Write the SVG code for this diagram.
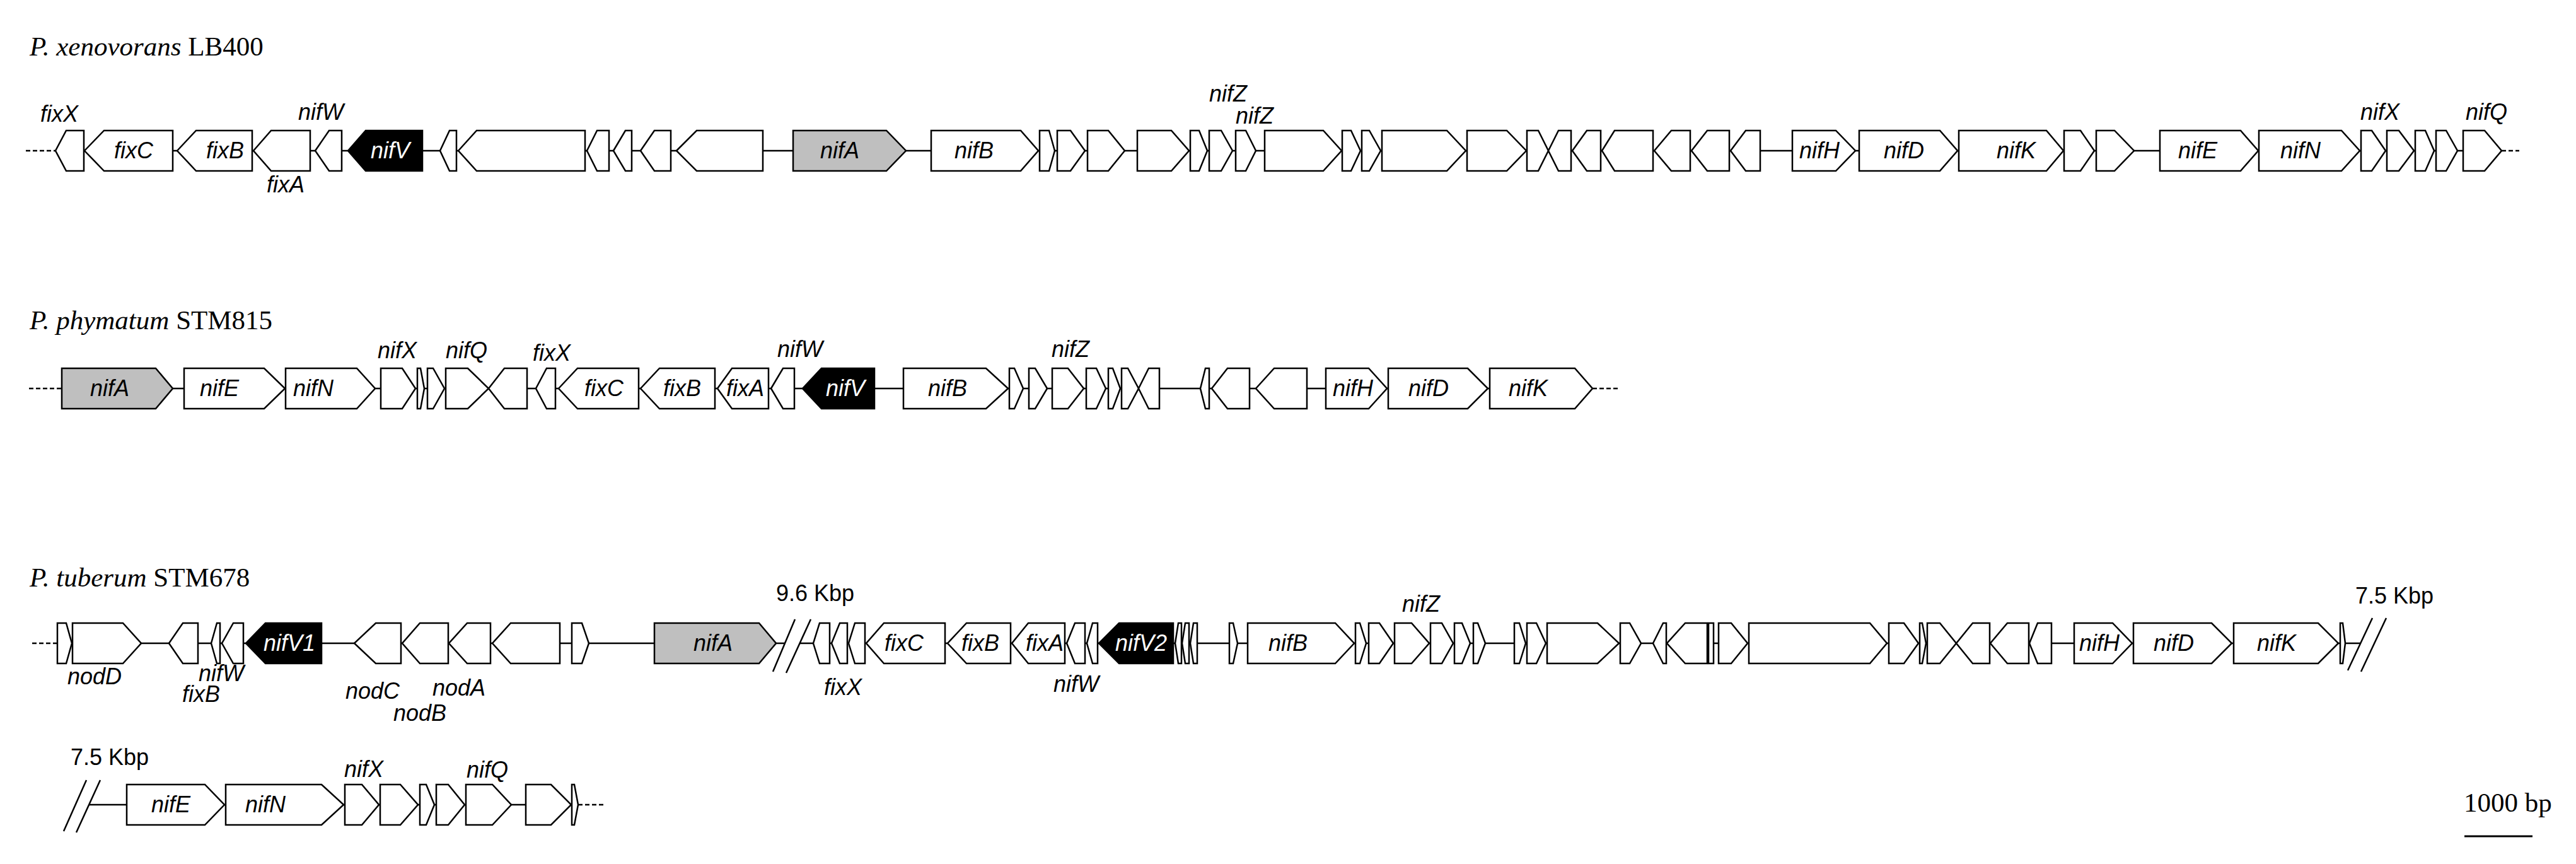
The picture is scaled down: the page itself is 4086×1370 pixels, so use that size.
<svg xmlns="http://www.w3.org/2000/svg" width="4086" height="1370" viewBox="0 0 4086 1370">
<style>
.g{fill:#fff;stroke:#000;stroke-width:2.5;stroke-linejoin:miter}
.a{fill:#bfbfbf}
.v{fill:#000}
.t{font-family:"Liberation Sans",Arial,sans-serif;font-style:italic;font-size:36px;text-anchor:middle;fill:#000}
.w{fill:#fff}
.bb{stroke:#000;stroke-width:2.5;fill:none}
.d{stroke-dasharray:7 4}
.k{font-family:"Liberation Sans",Arial,sans-serif;font-size:36px;fill:#000}
.ti{font-family:"Liberation Serif","Times New Roman",serif;font-size:43px;fill:#000}
</style>
<rect width="4086" height="1370" fill="#fff"/>
<g id="titles">
<text class="ti" x="47" y="88"><tspan font-style="italic">P. xenovorans</tspan> LB400</text>
<text class="ti" x="47" y="522"><tspan font-style="italic">P. phymatum</tspan> STM815</text>
<text class="ti" x="47" y="930"><tspan font-style="italic">P. tuberum</tspan> STM678</text>
</g>
<g id="connectors">
<line class="bb d" x1="41" y1="239" x2="88" y2="239"/>
<line class="bb" x1="88" y1="239" x2="3968" y2="239"/>
<line class="bb d" x1="3968" y1="239" x2="3996" y2="239"/>
<line class="bb d" x1="46" y1="616" x2="98" y2="616"/>
<line class="bb" x1="98" y1="616" x2="2526" y2="616"/>
<line class="bb d" x1="2526" y1="616" x2="2569" y2="616"/>
<line class="bb d" x1="51" y1="1020" x2="91" y2="1020"/>
<line class="bb" x1="91" y1="1020" x2="1245" y2="1020"/>
<line class="bb" x1="1269" y1="1020" x2="3744" y2="1020"/>
<line class="bb" x1="1226" y1="1065" x2="1261" y2="982"/>
<line class="bb" x1="1247" y1="1067" x2="1286" y2="982"/>
<line class="bb" x1="3724" y1="1063" x2="3763" y2="980"/>
<line class="bb" x1="3745" y1="1065" x2="3785" y2="980"/>
<line class="bb" x1="101" y1="1318" x2="137" y2="1237"/>
<line class="bb" x1="121" y1="1320" x2="159" y2="1237"/>
<line class="bb" x1="141" y1="1276" x2="917" y2="1276"/>
<line class="bb d" x1="917" y1="1276" x2="960" y2="1276"/>
</g>
<g id="row1">
<g id="r1-fixX"><polygon class="g" points="88,239 105,207 133,207 133,271 105,271"/><text class="t" x="94" y="193">fixX</text></g>
<g id="r1-fixC"><polygon class="g" points="134,239 165,207 274,207 274,271 165,271"/><text class="t" x="212" y="251">fixC</text></g>
<g id="r1-fixB"><polygon class="g" points="281,239 311,207 400,207 400,271 311,271"/><text class="t" x="357" y="251">fixB</text></g>
<g id="r1-fixA"><polygon class="g" points="402,239 430,207 492,207 492,271 430,271"/><text class="t" x="453" y="305">fixA</text></g>
<g id="r1-nifW"><polygon class="g" points="500,239 522,207 542,207 542,271 522,271"/><text class="t" x="509" y="190">nifW</text></g>
<g id="r1-nifV"><polygon class="g v" points="552,239 580,207 670,207 670,271 580,271"/><text class="t w" x="619" y="251">nifV</text></g>
<g id="r1-g7"><polygon class="g" points="698,239 713,207 724,207 724,271 713,271"/></g>
<g id="r1-g8"><polygon class="g" points="727,239 756,207 928,207 928,271 756,271"/></g>
<g id="r1-g9"><polygon class="g" points="931,239 947,207 966,207 966,271 947,271"/></g>
<g id="r1-g10"><polygon class="g" points="973,239 992,207 1002,207 1002,271 992,271"/></g>
<g id="r1-g11"><polygon class="g" points="1016,239 1038,207 1064,207 1064,271 1038,271"/></g>
<g id="r1-g12"><polygon class="g" points="1073,239 1105,207 1210,207 1210,271 1105,271"/></g>
<g id="r1-nifA"><polygon class="g a" points="1258,207 1406,207 1437,239 1406,271 1258,271"/><text class="t" x="1332" y="251">nifA</text></g>
<g id="r1-nifB"><polygon class="g" points="1477,207 1619,207 1647,239 1619,271 1477,271"/><text class="t" x="1545" y="251">nifB</text></g>
<g id="r1-g15"><polygon class="g" points="1649,207 1664,207 1673,239 1664,271 1649,271"/></g>
<g id="r1-g16"><polygon class="g" points="1677,207 1698,207 1721,239 1698,271 1677,271"/></g>
<g id="r1-g17"><polygon class="g" points="1725,207 1758,207 1784,239 1758,271 1725,271"/></g>
<g id="r1-g18"><polygon class="g" points="1804,207 1858,207 1886,239 1858,271 1804,271"/></g>
<g id="r1-g19"><polygon class="g" points="1888,207 1902,207 1915,239 1902,271 1888,271"/></g>
<g id="r1-g20"><polygon class="g" points="1918,207 1937,207 1955,239 1937,271 1918,271"/><text class="t" x="1948" y="161">nifZ</text></g>
<g id="r1-g21"><polygon class="g" points="1960,207 1976,207 1992,239 1976,271 1960,271"/><text class="t" x="1990" y="196">nifZ</text></g>
<g id="r1-g22"><polygon class="g" points="2006,207 2099,207 2128,239 2099,271 2006,271"/></g>
<g id="r1-g23"><polygon class="g" points="2129,207 2143,207 2158,239 2143,271 2129,271"/></g>
<g id="r1-g24"><polygon class="g" points="2160,207 2172,207 2190,239 2172,271 2160,271"/></g>
<g id="r1-g25"><polygon class="g" points="2192,207 2295,207 2325,239 2295,271 2192,271"/></g>
<g id="r1-g26"><polygon class="g" points="2327,207 2390,207 2421,239 2390,271 2327,271"/></g>
<g id="r1-g27"><polygon class="g" points="2422,207 2440,207 2456,239 2440,271 2422,271"/></g>
<g id="r1-g28"><polygon class="g" points="2456,239 2472,207 2492,207 2492,271 2472,271"/></g>
<g id="r1-g29"><polygon class="g" points="2494,239 2517,207 2539,207 2539,271 2517,271"/></g>
<g id="r1-g30"><polygon class="g" points="2541,239 2561,207 2622,207 2622,271 2561,271"/></g>
<g id="r1-g31"><polygon class="g" points="2624,239 2651,207 2681,207 2681,271 2651,271"/></g>
<g id="r1-g32"><polygon class="g" points="2683,239 2708,207 2743,207 2743,271 2708,271"/></g>
<g id="r1-g33"><polygon class="g" points="2745,239 2769,207 2792,207 2792,271 2769,271"/></g>
<g id="r1-nifH"><polygon class="g" points="2843,207 2912,207 2943,239 2912,271 2843,271"/><text class="t" x="2886" y="251">nifH</text></g>
<g id="r1-nifD"><polygon class="g" points="2949,207 3077,207 3105,239 3077,271 2949,271"/><text class="t" x="3020" y="251">nifD</text></g>
<g id="r1-nifK"><polygon class="g" points="3107,207 3246,207 3273,239 3246,271 3107,271"/><text class="t" x="3198" y="251">nifK</text></g>
<g id="r1-g37"><polygon class="g" points="3274,207 3300,207 3322,239 3300,271 3274,271"/></g>
<g id="r1-g38"><polygon class="g" points="3325,207 3354,207 3385,239 3354,271 3325,271"/></g>
<g id="r1-nifE"><polygon class="g" points="3426,207 3554,207 3582,239 3554,271 3426,271"/><text class="t" x="3486" y="251">nifE</text></g>
<g id="r1-nifN"><polygon class="g" points="3583,207 3714,207 3743,239 3714,271 3583,271"/><text class="t" x="3649" y="251">nifN</text></g>
<g id="r1-nifX"><polygon class="g" points="3745,207 3762,207 3784,239 3762,271 3745,271"/><text class="t" x="3775" y="190">nifX</text></g>
<g id="r1-g42"><polygon class="g" points="3786,207 3805,207 3829,239 3805,271 3786,271"/></g>
<g id="r1-g43"><polygon class="g" points="3831,207 3847,207 3861,239 3847,271 3831,271"/></g>
<g id="r1-g44"><polygon class="g" points="3864,207 3880,207 3898,239 3880,271 3864,271"/></g>
<g id="r1-nifQ"><polygon class="g" points="3907,207 3941,207 3968,239 3941,271 3907,271"/><text class="t" x="3944" y="190">nifQ</text></g>
</g>
<g id="row2">
<g id="r2-nifA"><polygon class="g a" points="98,584 247,584 274,616 247,648 98,648"/><text class="t" x="174" y="628">nifA</text></g>
<g id="r2-nifE"><polygon class="g" points="292,584 419,584 452,616 419,648 292,648"/><text class="t" x="348" y="628">nifE</text></g>
<g id="r2-nifN"><polygon class="g" points="453,584 566,584 595,616 566,648 453,648"/><text class="t" x="497" y="628">nifN</text></g>
<g id="r2-nifX"><polygon class="g" points="604,584 638,584 659,616 638,648 604,648"/><text class="t" x="630" y="568">nifX</text></g>
<g id="r2-g5"><polygon class="g" points="662,584 667,584 673,616 667,648 662,648"/></g>
<g id="r2-g6"><polygon class="g" points="678,584 687,584 705,616 687,648 678,648"/></g>
<g id="r2-nifQ"><polygon class="g" points="707,584 742,584 775,616 742,648 707,648"/><text class="t" x="740" y="568">nifQ</text></g>
<g id="r2-g8"><polygon class="g" points="775,616 800,584 836,584 836,648 800,648"/></g>
<g id="r2-fixX"><polygon class="g" points="850,616 867,584 881,584 881,648 867,648"/><text class="t" x="875" y="572">fixX</text></g>
<g id="r2-fixC"><polygon class="g" points="886,616 916,584 1013,584 1013,648 916,648"/><text class="t" x="958" y="628">fixC</text></g>
<g id="r2-fixB"><polygon class="g" points="1016,616 1046,584 1134,584 1134,648 1046,648"/><text class="t" x="1082" y="628">fixB</text></g>
<g id="r2-fixA"><polygon class="g" points="1138,616 1161,584 1219,584 1219,648 1161,648"/><text class="t" x="1182" y="628">fixA</text></g>
<g id="r2-nifW"><polygon class="g" points="1223,616 1242,584 1260,584 1260,648 1242,648"/><text class="t" x="1269" y="566">nifW</text></g>
<g id="r2-nifV"><polygon class="g v" points="1273,616 1303,584 1387,584 1387,648 1303,648"/><text class="t w" x="1341" y="628">nifV</text></g>
<g id="r2-nifB"><polygon class="g" points="1433,584 1564,584 1599,616 1564,648 1433,648"/><text class="t" x="1503" y="628">nifB</text></g>
<g id="r2-g16"><polygon class="g" points="1601,584 1609,584 1623,616 1609,648 1601,648"/></g>
<g id="r2-g17"><polygon class="g" points="1632,584 1642,584 1661,616 1642,648 1632,648"/></g>
<g id="r2-nifZ"><polygon class="g" points="1669,584 1694,584 1719,616 1694,648 1669,648"/><text class="t" x="1698" y="566">nifZ</text></g>
<g id="r2-g19"><polygon class="g" points="1723,584 1739,584 1754,616 1739,648 1723,648"/></g>
<g id="r2-g20"><polygon class="g" points="1758,584 1765,584 1777,616 1765,648 1758,648"/></g>
<g id="r2-g21"><polygon class="g" points="1779,584 1789,584 1806,616 1789,648 1779,648"/></g>
<g id="r2-g22"><polygon class="g" points="1806,616 1822,584 1839,584 1839,648 1822,648"/></g>
<g id="r2-g23"><polygon class="g" points="1904,616 1912,584 1918,584 1918,648 1912,648"/></g>
<g id="r2-g24"><polygon class="g" points="1922,616 1947,584 1982,584 1982,648 1947,648"/></g>
<g id="r2-g25"><polygon class="g" points="1992,616 2021,584 2073,584 2073,648 2021,648"/></g>
<g id="r2-nifH"><polygon class="g" points="2103,584 2171,584 2200,616 2171,648 2103,648"/><text class="t" x="2146" y="628">nifH</text></g>
<g id="r2-nifD"><polygon class="g" points="2202,584 2328,584 2360,616 2328,648 2202,648"/><text class="t" x="2266" y="628">nifD</text></g>
<g id="r2-nifK"><polygon class="g" points="2363,584 2498,584 2526,616 2498,648 2363,648"/><text class="t" x="2424" y="628">nifK</text></g>
</g>
<g id="row3">
<g id="r3-g1"><polygon class="g" points="91,988 105,988 114,1020 105,1052 91,1052"/></g>
<g id="r3-nodD"><polygon class="g" points="115,988 195,988 224,1020 195,1052 115,1052"/><text class="t" x="150" y="1085">nodD</text></g>
<g id="r3-fixB"><polygon class="g" points="268,1020 290,988 314,988 314,1052 290,1052"/><text class="t" x="319" y="1113">fixB</text></g>
<g id="r3-g4"><polygon class="g" points="335,1020 344,988 349,988 349,1052 344,1052"/></g>
<g id="r3-nifW"><polygon class="g" points="352,1020 370,988 386,988 386,1052 370,1052"/><text class="t" x="351" y="1080">nifW</text></g>
<g id="r3-nifV1"><polygon class="g v" points="390,1020 421,988 510,988 510,1052 421,1052"/><text class="t w" x="459" y="1032">nifV1</text></g>
<g id="r3-nodC"><polygon class="g" points="562,1020 596,988 636,988 636,1052 596,1052"/><text class="t" x="591" y="1108">nodC</text></g>
<g id="r3-nodB"><polygon class="g" points="638,1020 666,988 711,988 711,1052 666,1052"/><text class="t" x="666" y="1143">nodB</text></g>
<g id="r3-nodA"><polygon class="g" points="712,1020 741,988 778,988 778,1052 741,1052"/><text class="t" x="728" y="1103">nodA</text></g>
<g id="r3-g10"><polygon class="g" points="781,1020 810,988 888,988 888,1052 810,1052"/></g>
<g id="r3-g11"><polygon class="g" points="907,988 923,988 934,1020 923,1052 907,1052"/></g>
<g id="r3-nifA"><polygon class="g a" points="1038,988 1204,988 1231,1020 1204,1052 1038,1052"/><text class="t" x="1131" y="1032">nifA</text></g>
<g id="r3-g13"><polygon class="g" points="1290,1020 1300,988 1316,988 1316,1052 1300,1052"/></g>
<g id="r3-fixX"><polygon class="g" points="1319,1020 1332,988 1344,988 1344,1052 1332,1052"/><text class="t" x="1337" y="1102">fixX</text></g>
<g id="r3-g15"><polygon class="g" points="1346,1020 1356,988 1372,988 1372,1052 1356,1052"/></g>
<g id="r3-fixC"><polygon class="g" points="1374,1020 1402,988 1499,988 1499,1052 1402,1052"/><text class="t" x="1434" y="1032">fixC</text></g>
<g id="r3-fixB2"><polygon class="g" points="1503,1020 1533,988 1603,988 1603,1052 1533,1052"/><text class="t" x="1555" y="1032">fixB</text></g>
<g id="r3-fixA"><polygon class="g" points="1605,1020 1631,988 1689,988 1689,1052 1631,1052"/><text class="t" x="1657" y="1032">fixA</text></g>
<g id="r3-g19"><polygon class="g" points="1692,1020 1705,988 1721,988 1721,1052 1705,1052"/><text class="t" x="1707" y="1097">nifW</text></g>
<g id="r3-g20"><polygon class="g" points="1724,1020 1733,988 1741,988 1741,1052 1733,1052"/></g>
<g id="r3-nifV2"><polygon class="g v" points="1743,1020 1775,988 1861,988 1861,1052 1775,1052"/><text class="t w" x="1810" y="1032">nifV2</text></g>
<g id="r3-g22"><polygon class="g" points="1864,1020 1869,988 1874,988 1874,1052 1869,1052"/></g>
<g id="r3-g23"><polygon class="g" points="1875,1020 1880,988 1886,988 1886,1052 1880,1052"/></g>
<g id="r3-g24"><polygon class="g" points="1888,1020 1893,988 1899,988 1899,1052 1893,1052"/></g>
<g id="r3-g25"><polygon class="g" points="1950,988 1956,988 1963,1020 1956,1052 1950,1052"/></g>
<g id="r3-nifB"><polygon class="g" points="1979,988 2118,988 2148,1020 2118,1052 1979,1052"/><text class="t" x="2043" y="1032">nifB</text></g>
<g id="r3-g27"><polygon class="g" points="2150,988 2157,988 2167,1020 2157,1052 2150,1052"/></g>
<g id="r3-g28"><polygon class="g" points="2171,988 2188,988 2210,1020 2188,1052 2171,1052"/></g>
<g id="r3-nifZ"><polygon class="g" points="2212,988 2239,988 2267,1020 2239,1052 2212,1052"/><text class="t" x="2254" y="970">nifZ</text></g>
<g id="r3-g30"><polygon class="g" points="2269,988 2287,988 2305,1020 2287,1052 2269,1052"/></g>
<g id="r3-g31"><polygon class="g" points="2307,988 2319,988 2332,1020 2319,1052 2307,1052"/></g>
<g id="r3-g32"><polygon class="g" points="2337,988 2344,988 2356,1020 2344,1052 2337,1052"/></g>
<g id="r3-g33"><polygon class="g" points="2402,988 2410,988 2420,1020 2410,1052 2402,1052"/></g>
<g id="r3-g34"><polygon class="g" points="2422,988 2437,988 2452,1020 2437,1052 2422,1052"/></g>
<g id="r3-g35"><polygon class="g" points="2454,988 2534,988 2568,1020 2534,1052 2454,1052"/></g>
<g id="r3-g36"><polygon class="g" points="2570,988 2585,988 2603,1020 2585,1052 2570,1052"/></g>
<g id="r3-g37"><polygon class="g" points="2622,1020 2638,988 2643,988 2643,1052 2638,1052"/></g>
<g id="r3-g38"><polygon class="g" points="2644,1020 2673,988 2708,988 2708,1052 2673,1052"/></g>
<g id="r3-g39"><polygon class="g" points="2710,988 2718,988 2718,1052 2710,1052"/></g>
<g id="r3-g40"><polygon class="g" points="2726,988 2746,988 2772,1020 2746,1052 2726,1052"/></g>
<g id="r3-g41"><polygon class="g" points="2774,988 2966,988 2993,1020 2966,1052 2774,1052"/></g>
<g id="r3-g42"><polygon class="g" points="2996,988 3020,988 3043,1020 3020,1052 2996,1052"/></g>
<g id="r3-g43"><polygon class="g" points="3045,988 3049,988 3055,1020 3049,1052 3045,1052"/></g>
<g id="r3-g44"><polygon class="g" points="3057,988 3077,988 3103,1020 3077,1052 3057,1052"/></g>
<g id="r3-g45"><polygon class="g" points="3103,1020 3129,988 3156,988 3156,1052 3129,1052"/></g>
<g id="r3-g46"><polygon class="g" points="3157,1020 3184,988 3218,988 3218,1052 3184,1052"/></g>
<g id="r3-g47"><polygon class="g" points="3219,1020 3232,988 3254,988 3254,1052 3232,1052"/></g>
<g id="r3-nifH"><polygon class="g" points="3290,988 3351,988 3382,1020 3351,1052 3290,1052"/><text class="t" x="3330" y="1032">nifH</text></g>
<g id="r3-nifD"><polygon class="g" points="3384,988 3508,988 3540,1020 3508,1052 3384,1052"/><text class="t" x="3448" y="1032">nifD</text></g>
<g id="r3-nifK"><polygon class="g" points="3543,988 3677,988 3709,1020 3677,1052 3543,1052"/><text class="t" x="3611" y="1032">nifK</text></g>
<g id="r3-g51"><polygon class="g" points="3712,988 3716,988 3720,1020 3716,1052 3712,1052"/></g>
<text class="k" x="1231" y="953">9.6 Kbp</text>
<text class="k" x="3736" y="957">7.5 Kbp</text>
</g>
<g id="row4">
<text class="k" x="112" y="1213">7.5 Kbp</text>
<g id="r4-nifE"><polygon class="g" points="201,1244 325,1244 356,1276 325,1308 201,1308"/><text class="t" x="271" y="1288">nifE</text></g>
<g id="r4-nifN"><polygon class="g" points="358,1244 510,1244 545,1276 510,1308 358,1308"/><text class="t" x="421" y="1288">nifN</text></g>
<g id="r4-nifX"><polygon class="g" points="547,1244 574,1244 601,1276 574,1308 547,1308"/><text class="t" x="577" y="1232">nifX</text></g>
<g id="r4-g4"><polygon class="g" points="603,1244 635,1244 663,1276 635,1308 603,1308"/></g>
<g id="r4-g5"><polygon class="g" points="666,1244 676,1244 689,1276 676,1308 666,1308"/></g>
<g id="r4-g6"><polygon class="g" points="692,1244 711,1244 737,1276 711,1308 692,1308"/></g>
<g id="r4-nifQ"><polygon class="g" points="739,1244 781,1244 811,1276 781,1308 739,1308"/><text class="t" x="773" y="1233">nifQ</text></g>
<g id="r4-g8"><polygon class="g" points="834,1244 874,1244 906,1276 874,1308 834,1308"/></g>
<g id="r4-g9"><polygon class="g" points="907,1244 911,1244 917,1276 911,1308 907,1308"/></g>
</g>
<g id="scalebar">
<text class="ti" x="3908" y="1287" font-size="40">1000 bp</text>
<line x1="3909" y1="1326" x2="4017" y2="1326" stroke="#000" stroke-width="3"/>
</g>
</svg>
